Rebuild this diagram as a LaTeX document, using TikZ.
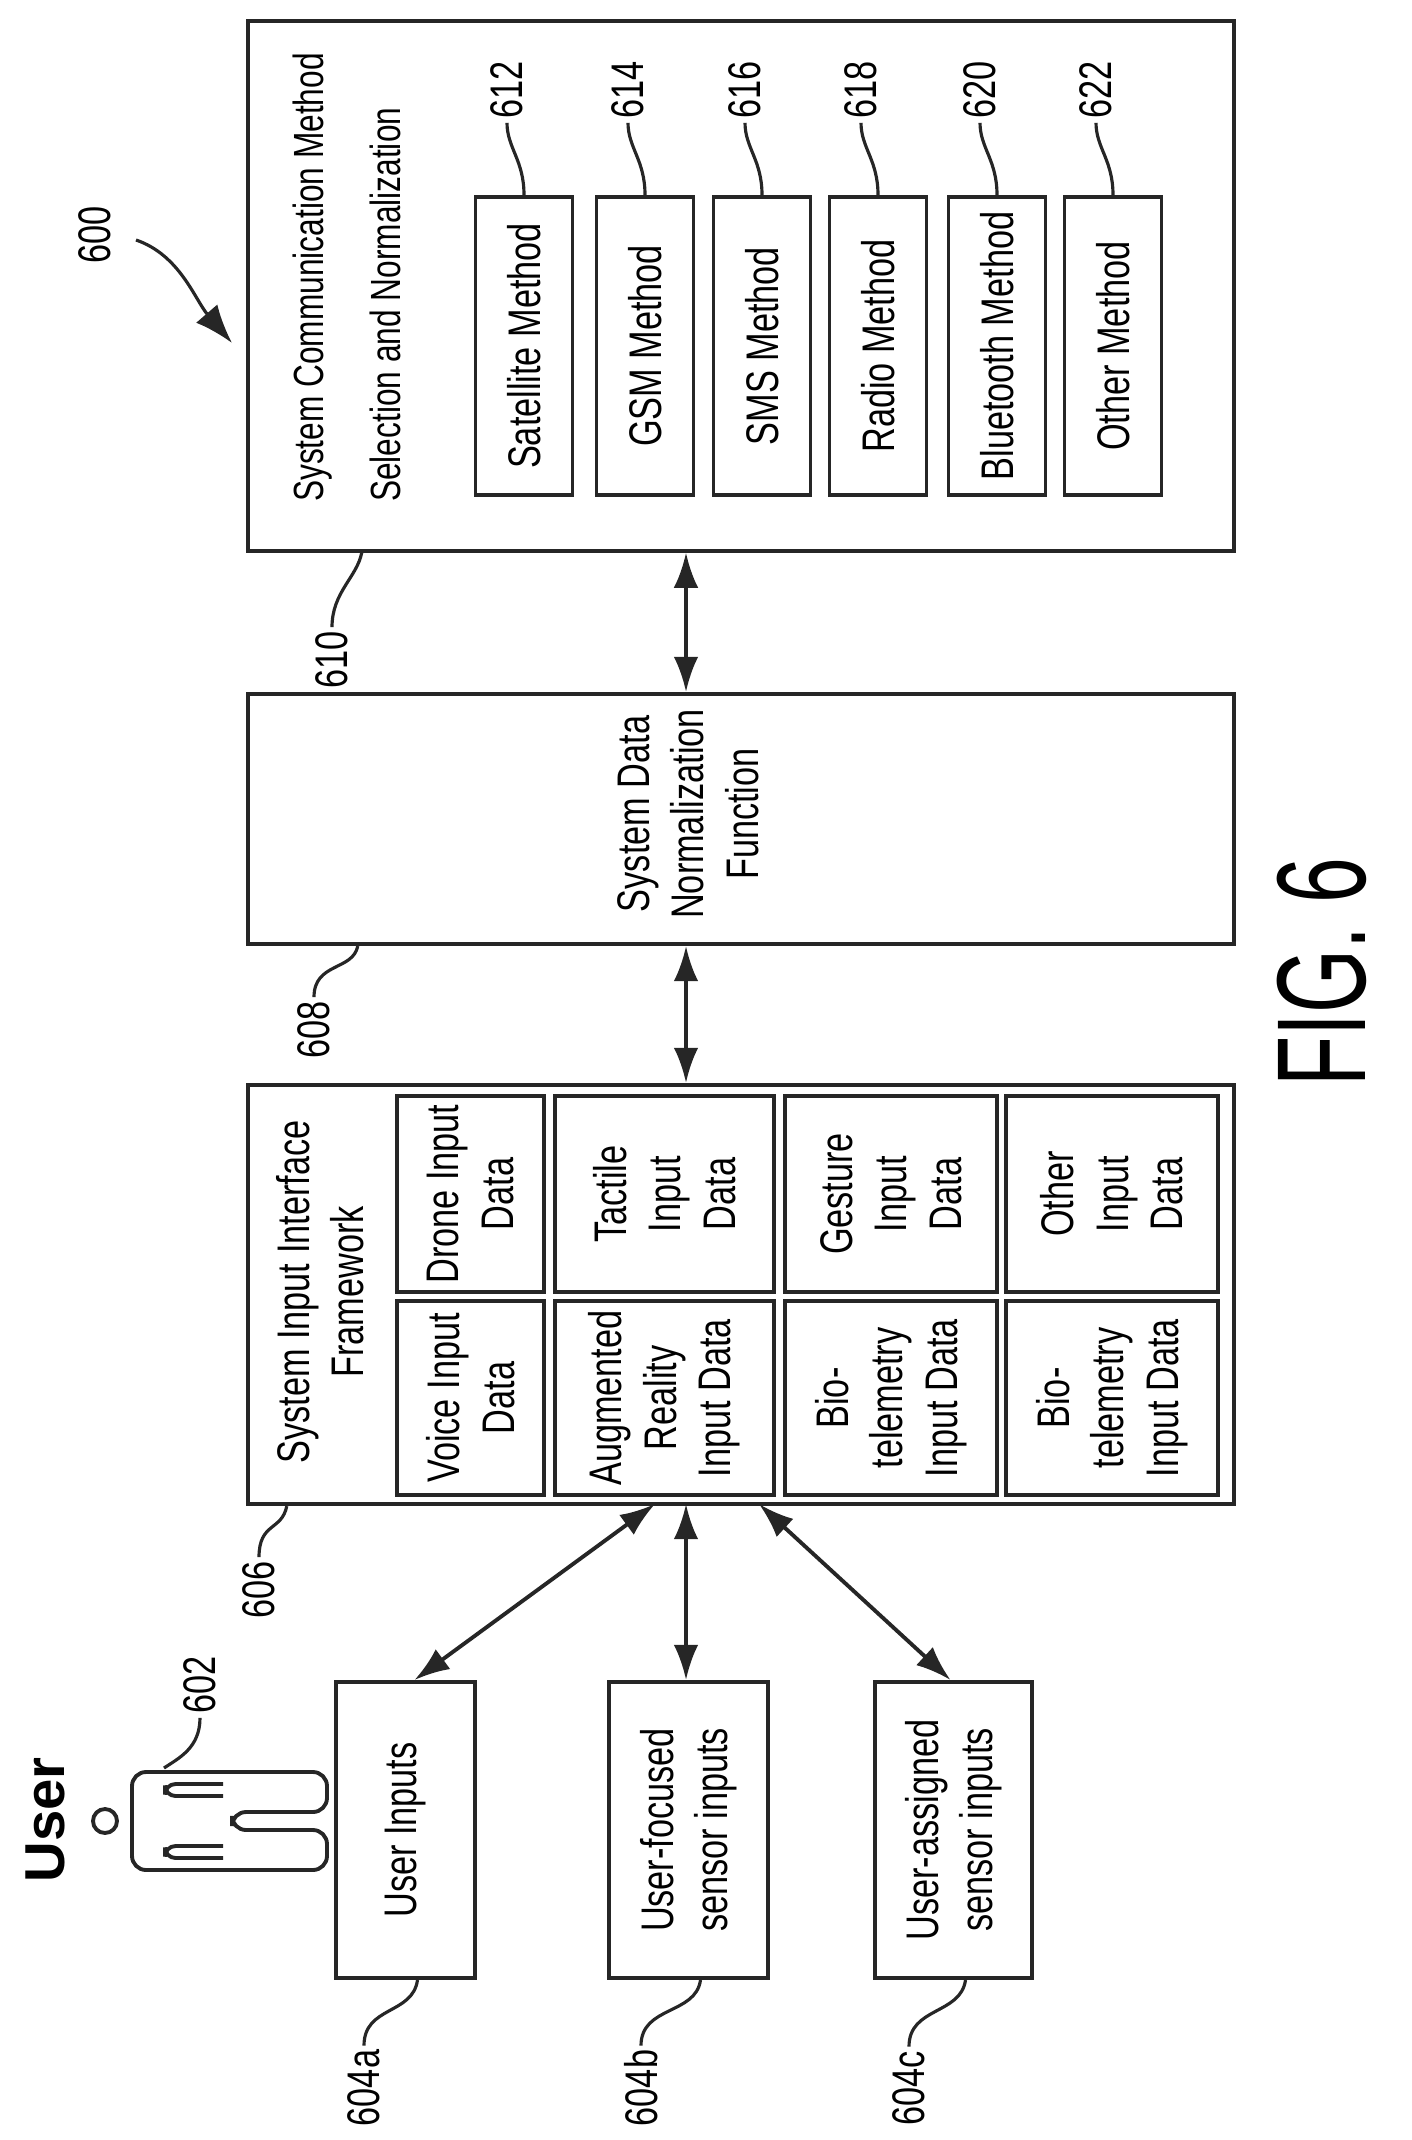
\documentclass[tikz,border=0pt]{standalone}
\usepackage{fontspec}
\setmainfont{Liberation Sans}[FakeStretch=0.75]
\newfontfamily\figfont{Liberation Sans}[FakeStretch=0.65]
\usetikzlibrary{arrows.meta,calc}
\tikzset{
  box/.style={draw=black!85, line width=1.1pt, inner sep=0pt},
  cell/.style={box, rotate=90, align=center, font=\fontsize{13}{15.5}\selectfont},
  txt/.style={rotate=90, align=center, font=\fontsize{13}{15.5}\selectfont, inner sep=1pt},
  link/.style={draw=black!85, line width=1.1pt, {Latex[length=10pt,width=7pt]}-{Latex[length=10pt,width=7pt]}},
  lead/.style={draw=black!85, line width=0.9pt}
}
\begin{document}
\begin{tikzpicture}[x=0.01cm, y=-0.01cm]
  \useasboundingbox (0,0) rectangle (1411,2140);

  % communication method box
  \node[box, minimum width=9.86cm, minimum height=5.29cm] (comm) at (741,286) {};
  \node[txt, anchor=west, align=left, font=\fontsize{12}{14}\selectfont] (commt) at (347,506)
    {System Communication Method\\[8pt]Selection and Normalization};
  \foreach \x/\n/\t in {524/612/Satellite Method, 645/614/GSM Method, 762/616/SMS Method,
                        878/618/Radio Method, 997/620/Bluetooth Method, 1113/622/Other Method}{
    \node[cell, minimum width=2.98cm, minimum height=0.97cm] (m\n) at (\x,346) {\t};
    \node[txt] (l\n) at (\x-17,90) {\n};
    \draw[lead] (l\n.west) .. controls +(0,25) and +(0,-35) .. (m\n.east);
  }
  \node[txt] (l600) at (95,235) {600};
  \coordinate (a600) at (232,343);
  \draw[lead, -{Latex[length=11pt,width=8pt]}] (136,240) .. controls (180,255) and (195,300) .. (a600);

  % normalization function
  \node[box, minimum width=9.86cm, minimum height=2.5cm] (norm) at (741,819) {};
  \node[txt] (normt) at (688,814) {System Data\\Normalization\\Function};

  % input interface framework
  \node[box, minimum width=9.86cm, minimum height=4.19cm] (frame) at (741,1294.5) {};
  \node[txt] (framet) at (320,1292) {System Input Interface\\Framework};
  \node[cell, minimum width=1.96cm, minimum height=1.47cm] (c11) at (470.5,1194) {Drone Input\\Data};
  \node[cell, minimum width=1.96cm, minimum height=2.19cm] (c21) at (664.5,1194) {Tactile\\Input\\Data};
  \node[cell, minimum width=1.96cm, minimum height=2.12cm] (c31) at (891,1194) {Gesture\\Input\\Data};
  \node[cell, minimum width=1.96cm, minimum height=2.12cm] (c41) at (1112,1194) {Other\\Input\\Data};
  \node[cell, minimum width=1.94cm, minimum height=1.47cm] (c12) at (470.5,1398) {Voice Input\\Data};
  \node[cell, minimum width=1.94cm, minimum height=2.19cm] (c22) at (664.5,1398) {Augmented\\Reality\\Input Data};
  \node[cell, minimum width=1.94cm, minimum height=2.12cm] (c32) at (891,1398) {Bio-\\telemetry\\Input Data};
  \node[cell, minimum width=1.94cm, minimum height=2.12cm] (c42) at (1112,1398) {Bio-\\telemetry\\Input Data};

  \draw[link] (comm.south -| 686,0) -- (norm.north -| 686,0);
  \draw[link] (norm.south -| 686,0) -- (frame.north -| 686,0);

  % inputs
  \node[cell, minimum width=2.96cm, minimum height=1.39cm] (ua) at (405.5,1830) {User Inputs};
  \node[cell, minimum width=2.96cm, minimum height=1.59cm] (ub) at (688.5,1830) {User-focused\\sensor inputs};
  \node[cell, minimum width=2.96cm, minimum height=1.57cm] (uc) at (953.5,1830) {User-assigned\\sensor inputs};
  \coordinate (pa) at (655,1504);
  \coordinate (pb) at (686,1504);
  \coordinate (pc) at (759,1504);
  \draw[link] (pa) -- ($(ua.east)+(9,0)$);
  \draw[link] (pb) -- (ub.east -| pb);
  \draw[link] (pc) -- ($(uc.east)+(-3,0)$);

  % user figure
  \node[rotate=90, font=\fontsize{16}{18}\bfseries\fontspec{Liberation Sans}] (user) at (45,1820) {User};
  \draw[lead, line width=1.1pt] (105,1821) circle (12);
  \draw[lead, line width=1.1pt, rounded corners=4pt]
    (132,1772) -- (327,1772) -- (327,1812) -- (232,1812) -- (232,1830) -- (327,1830)
    -- (327,1870) -- (132,1870) -- cycle;
  \draw[lead, line width=1.1pt, rounded corners=3pt]
    (223,1784) -- (165,1784) -- (165,1796) -- (223,1796)
    (223,1846) -- (165,1846) -- (165,1858) -- (223,1858);

  % reference labels
  \node[txt] (l602) at (200,1685) {602};
  \draw[lead] (l602.west) .. controls +(0,30) and +(15,-10) .. (164,1768);
  \node[txt] (l606) at (259,1590) {606};
  \draw[lead] (l606.east) .. controls +(0,-35) and +(-5,25) .. ($(frame.south west)+(41,0)$);
  \node[txt] (l608) at (314,1030) {608};
  \draw[lead] (l608.east) .. controls +(0,-35) and +(-5,25) .. ($(norm.south west)+(112,0)$);
  \node[txt] (l610) at (332,660) {610};
  \draw[lead] (l610.east) .. controls +(0,-35) and +(-5,25) .. ($(comm.south west)+(116,0)$);
  \foreach \n/\x/\b in {604a/364/ua, 604b/641/ub, 604c/909/uc}{
    \node[txt] (l\n) at (\x,2088) {\n};
    \draw[lead] (l\n.east) .. controls +(0,-40) and +(-5,35) .. ($(\b.west)+(12,0)$);
  }

  \node[rotate=90, font=\fontsize{36}{40}\figfont] (fig) at (1322,972) {FIG. 6};
\end{tikzpicture}
\end{document}
